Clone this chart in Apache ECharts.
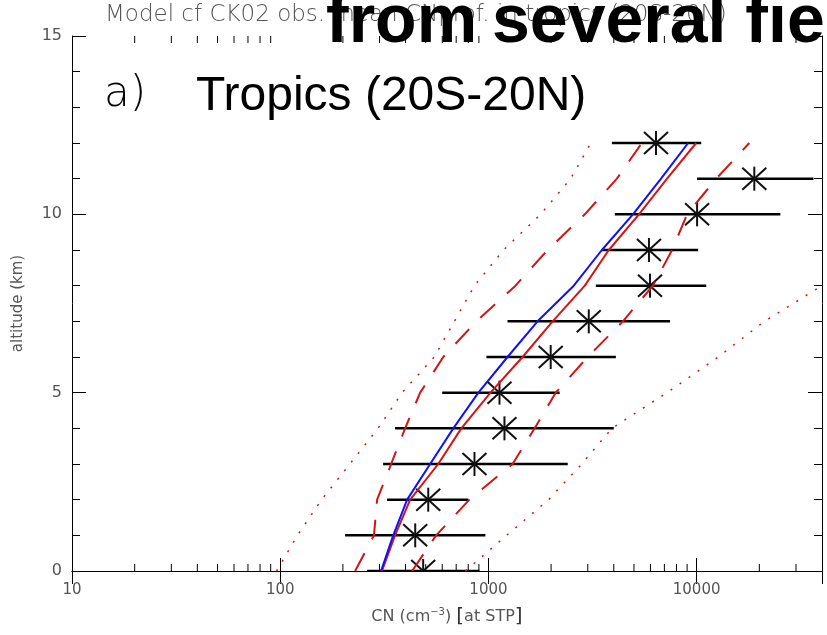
<!DOCTYPE html>
<html>
<head>
<meta charset="utf-8">
<script src="https://cdn.jsdelivr.net/npm/echarts@6/dist/echarts.min.js"></script>
<style>
  html, body { margin: 0; padding: 0; background: #fff; }
  #main { width: 827px; height: 635px; }
</style>
</head>
<body>
<div id="main"></div>
<script>
// altitude levels (km)
const altitudes = [0, 1, 2, 3, 4, 5, 6, 7, 8, 9, 10, 11, 12];
// observations: mean CN and horizontal bar ends
const obsMean = [486, 445, 514, 857, 1194, 1130, 1991, 3033, 5970, 5902, 10050, 18920, 6380];
const obsLow  = [261, 205, 326, 312, 356, 600, 978, 1235, 3280, 3506, 4046, 10050, 3917];
const obsHigh = [905, 967, 801, 2404, 4000, 2198, 4093, 7452, 11120, 10170, 25240, 36400, 10520];
// model profiles
const modelBlue = [305, 349, 407, 525, 678, 895, 1235, 1722, 2570, 3506, 4943, 6745, 9101];
const modelRed  = [308, 356, 421, 574, 741, 1023, 1459, 2034, 2903, 3786, 5284, 7211, 9950];
const redDashLow  = [229, 282, 292, 341, 398, 470, 607, 875, 1349, 1925, 2903, 4140, 5459];
const redDashHigh = [430, 561, 810, 1306, 1667, 2104, 3000, 4424, 6166, 7621, 8994, 12420, 17900];
const redDotLow  = [96, 121, 158, 216, 295, 385, 549, 686, 857, 1181, 1781, 2484, 3102];
const redDotHigh = [775, 1222, 1946, 2806, 3917, 7211, 12700, 21150, 40000];
// minor ticks of the log axis
const xMinorTicks = [20, 30, 40, 50, 60, 70, 80, 90,
  200, 300, 400, 500, 600, 700, 800, 900,
  2000, 3000, 4000, 5000, 6000, 7000, 8000, 9000,
  20000, 30000];

const red = '#d41414';
const labelGray = '#555';

function pairs(vals) {
  return vals.map((v, i) => [v, altitudes[i]]);
}

let myChart = echarts.init(document.getElementById('main'));

let option = {
  backgroundColor: '#fff',
  animation: false,
  grid: { left: 72, right: 5, top: 36, bottom: 64 },
  xAxis: [
    {
      type: 'log', logBase: 10, min: 10, max: 40000, position: 'bottom',
      axisLine: { lineStyle: { color: '#000', width: 1 } },
      axisTick: { inside: true, length: 13, lineStyle: { color: '#000' } },
      axisLabel: {
        color: labelGray, fontSize: 15, fontFamily: 'DejaVu Sans', margin: 12, showMaxLabel: false,
        formatter: v => String(Math.round(v))
      },
      splitLine: { show: false },
      name: 'CN (cm{sup|\u22123}) {br|[}at STP{br|]}',
      nameLocation: 'middle', nameGap: 36,
      nameTextStyle: {
        color: labelGray, fontSize: 16, fontFamily: 'DejaVu Sans',
        rich: {
          sup: { fontSize: 10, verticalAlign: 'top', color: labelGray, padding: [0, 0, 8, 0] },
          br: { fontSize: 20, color: '#333', fontFamily: 'DejaVu Sans' }
        }
      }
    },
    {
      type: 'log', logBase: 10, min: 10, max: 40000, position: 'top',
      axisLine: { lineStyle: { color: '#000', width: 1 } },
      axisTick: { inside: true, length: 13, lineStyle: { color: '#000' } },
      axisLabel: { show: false },
      splitLine: { show: false }
    }
  ],
  yAxis: [
    {
      type: 'value', min: 0, max: 15, interval: 5, position: 'left',
      axisLine: { show: true, lineStyle: { color: '#000', width: 1 } },
      axisTick: { show: true, inside: true, length: 14, lineStyle: { color: '#000' } },
      minorTick: { show: true, splitNumber: 5, length: 8, lineStyle: { color: '#000' } },
      axisLabel: { color: labelGray, fontSize: 16, fontFamily: 'DejaVu Sans', margin: 10 },
      splitLine: { show: false },
      name: 'altitude (km)', nameLocation: 'middle', nameGap: 46,
      nameTextStyle: { color: labelGray, fontSize: 15, fontFamily: 'DejaVu Sans' }
    },
    {
      type: 'value', min: 0, max: 15, interval: 5, position: 'right',
      axisLine: { show: true, lineStyle: { color: '#000', width: 1 } },
      axisTick: { show: true, inside: true, length: 14, lineStyle: { color: '#000' } },
      minorTick: { show: true, splitNumber: 5, length: 8, lineStyle: { color: '#000' } },
      axisLabel: { show: false },
      splitLine: { show: false }
    }
  ],
  graphic: [
    {
      type: 'text', left: 105, top: 4, z: 1,
      style: { text: 'Model cf CK02 obs. mean CNprof. in tropics (20S-20N)', fill: '#555', font: '200 23px "DejaVu Sans"' }
    },
    {
      type: 'text', left: 326, top: -11, z: 10,
      style: { text: 'from', fill: '#000', font: 'bold 68px "Liberation Sans"' }
    },
    {
      type: 'text', left: 492, top: -11, z: 10,
      style: { text: 'several field', fill: '#000', font: 'bold 68px "Liberation Sans"' }
    },
    {
      type: 'text', left: 104, top: 74, z: 10,
      style: { text: 'a)', fill: '#000', font: '300 42px "DejaVu Sans"' }
    },
    {
      type: 'text', left: 196, top: 73, z: 10,
      style: { text: 'Tropics (20S-20N)', fill: '#000', font: '48px "Liberation Sans"' }
    }
  ],
  series: [
    // minor ticks of the log axis, bottom and top
    {
      type: 'custom', xAxisIndex: 0, yAxisIndex: 0, silent: true,
      data: xMinorTicks.map(v => [v]),
      encode: { x: 0 },
      renderItem: function (params, api) {
        let b = api.coord([api.value(0), 0]);
        let t = api.coord([api.value(0), 15]);
        return {
          type: 'group',
          children: [
            { type: 'line', shape: { x1: b[0], y1: b[1], x2: b[0], y2: b[1] - 7 }, style: { stroke: '#000', lineWidth: 1 } },
            { type: 'line', shape: { x1: t[0], y1: t[1], x2: t[0], y2: t[1] + 7 }, style: { stroke: '#000', lineWidth: 1 } }
          ]
        };
      }
    },
    {
      type: 'line', data: pairs(redDotLow), showSymbol: false,
      lineStyle: { color: red, width: 1.5, type: [2, 9] }
    },
    {
      type: 'line', data: pairs(redDotHigh), showSymbol: false,
      lineStyle: { color: red, width: 1.5, type: [2, 9] }
    },
    {
      type: 'line', data: pairs(redDashLow), showSymbol: false,
      lineStyle: { color: red, width: 2, type: [20, 16] }
    },
    {
      type: 'line', data: pairs(redDashHigh), showSymbol: false,
      lineStyle: { color: red, width: 2, type: [20, 16] }
    },
    {
      type: 'line', data: pairs(modelRed), showSymbol: false,
      lineStyle: { color: red, width: 2 }
    },
    {
      type: 'line', data: pairs(modelBlue), showSymbol: false,
      lineStyle: { color: '#1010ff', width: 2 }
    },
    // observations: bar + asterisk
    {
      type: 'custom', clip: true,
      data: obsMean.map((v, i) => [v, altitudes[i], obsLow[i], obsHigh[i]]),
      encode: { x: 0, y: 1 },
      renderItem: function (params, api) {
        let c = api.coord([api.value(0), api.value(1)]);
        let lo = api.coord([api.value(2), api.value(1)]);
        let hi = api.coord([api.value(3), api.value(1)]);
        let s = { stroke: '#000', lineWidth: 2.5 };
        let st = { stroke: '#111', lineWidth: 2 };
        return {
          type: 'group',
          children: [
            { type: 'line', shape: { x1: lo[0], y1: lo[1], x2: hi[0], y2: hi[1] }, style: s },
            { type: 'line', shape: { x1: c[0], y1: c[1] - 12, x2: c[0], y2: c[1] + 12 }, style: st },
            { type: 'line', shape: { x1: c[0] - 12, y1: c[1] - 11, x2: c[0] + 12, y2: c[1] + 11 }, style: st },
            { type: 'line', shape: { x1: c[0] - 12, y1: c[1] + 11, x2: c[0] + 12, y2: c[1] - 11 }, style: st }
          ]
        };
      }
    }
  ]
};

myChart.setOption(option);
window.addEventListener('resize', function () {
  myChart.resize();
});
</script>
</body>
</html>
